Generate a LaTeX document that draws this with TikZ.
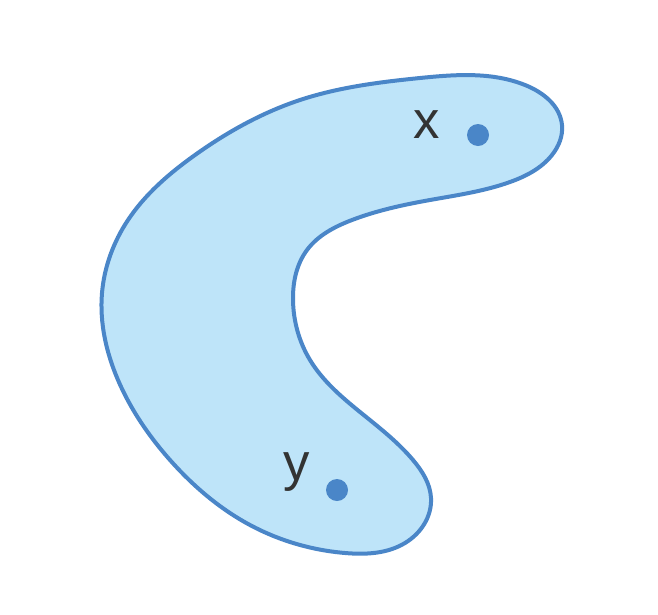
\documentclass[tikz,border=0pt]{standalone}
\usepackage{fontspec}
\setmainfont{Liberation Sans}
\usetikzlibrary{hobby}
\definecolor{shapefill}{HTML}{BEE4F9}
\definecolor{shapeline}{HTML}{4A86C8}
\definecolor{labelcol}{HTML}{333333}
\tikzset{
  blob/.style={draw=shapeline, fill=shapefill, line width=0.8mm, line join=round},
  pt/.style={circle, fill=shapeline, inner sep=0pt, minimum size=4.4mm},
  lbl/.style={text=labelcol, font=\fontsize{30}{30}\selectfont, inner sep=0pt}
}
\begin{document}
\begin{tikzpicture}[x=0.2mm, y=-0.2mm]
\useasboundingbox[fill=white] (0,0) rectangle (658,614);
\draw[blob, use Hobby shortcut, closed=true]
 (562,125) .. (525,85) .. (420,78) .. (300,100) .. (195,155) .. (128,220)
 .. (102,293) .. (118,380) .. (170,460) .. (250,525) .. (345,553) .. (405,543)
 .. (431,498) .. (413,460) .. (360,412) .. (310,360) .. (293,300) .. (307,250)
 .. (352,220) .. (430,200) .. (510,182) .. (552,155);
\node[pt] (px) at (478,135) {};
\node[pt] (py) at (337,490) {};
\node[lbl] (lx) at (427,125) {x};
\node[lbl] (ly) at (297,472) {y};
\end{tikzpicture}
\end{document}
